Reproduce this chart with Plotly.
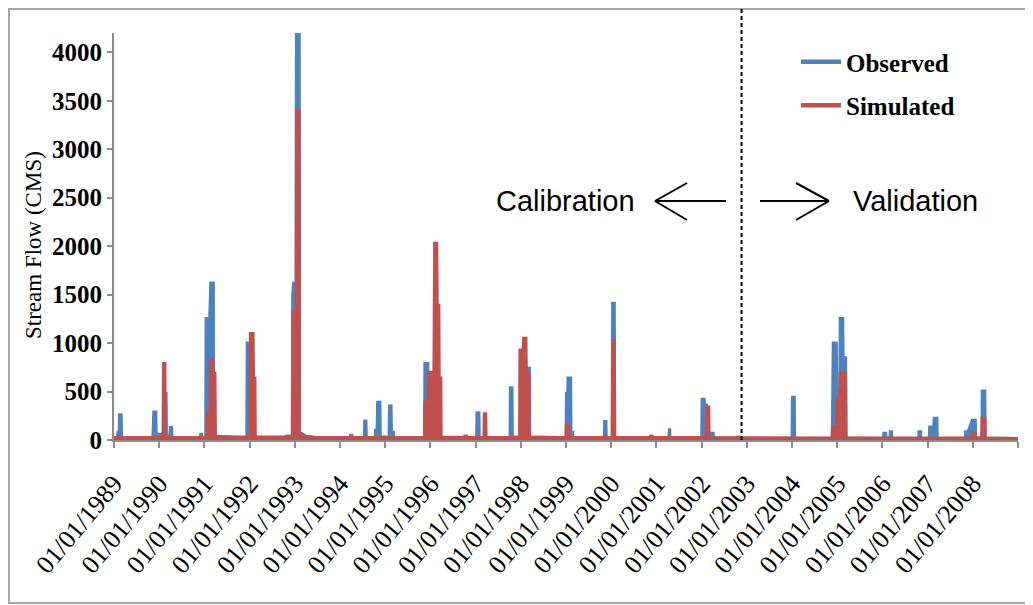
import plotly.graph_objects as go

# ---------------- data ----------------
obs_dates = [
    "1989-01-01", "1989-01-28", "1989-02-01", "1989-02-12", "1989-02-15", "1989-02-28", "1989-03-03",
    "1989-11-10", "1989-11-14", "1989-11-18", "1989-12-05", "1989-12-08",
    "1990-02-10", "1990-02-13", "1990-02-26", "1990-03-01",
    "1990-03-28", "1990-04-01", "1990-04-12", "1990-04-15",
    "1990-11-28", "1990-12-02", "1990-12-10", "1990-12-13",
    "1991-01-12", "1991-01-15", "1991-01-30", "1991-02-05", "1991-02-22", "1991-03-15", "1991-03-18",
    "1991-12-10", "1991-12-13", "1991-12-28", "1992-01-02",
    "1992-10-20", "1992-10-25", "1992-11-20", "1992-11-25",
    "1992-12-12", "1992-12-15", "1992-12-22", "1993-01-10", "1993-01-14", "1993-02-06", "1993-02-09",
    "1993-04-01", "1993-07-01",
    "1994-03-24", "1994-03-27", "1994-04-08", "1994-04-11",
    "1994-07-17", "1994-07-20", "1994-07-30", "1994-08-02",
    "1994-10-12", "1994-10-15", "1994-10-28", "1994-11-01", "1994-11-20", "1994-11-23",
    "1995-02-02", "1995-02-05", "1995-02-18", "1995-02-21", "1995-03-10", "1995-03-13",
    "1995-11-15", "1995-11-18", "1995-12-12", "1995-12-15",
    "1996-09-30", "1996-10-05", "1996-10-20", "1996-10-25",
    "1997-01-09", "1997-01-12", "1997-01-28", "1997-01-31",
    "1997-10-06", "1997-10-09", "1997-10-22", "1997-10-25",
    "1998-02-17", "1998-02-20", "1998-03-12", "1998-03-15",
    "1999-01-02", "1999-01-05", "1999-01-15", "1999-01-18", "1999-02-08", "1999-02-11", "1999-02-25", "1999-02-28",
    "1999-11-07", "1999-11-10", "1999-11-20", "1999-11-23",
    "2000-01-10", "2000-01-13", "2000-01-27", "2000-01-30",
    "2000-11-10", "2000-11-14", "2000-11-28", "2000-12-02",
    "2001-04-09", "2001-04-12", "2001-04-18", "2001-04-21",
    "2002-01-02", "2002-01-05", "2002-01-22", "2002-01-25", "2002-02-10", "2002-02-13",
    "2002-03-17", "2002-03-20", "2002-04-05", "2002-04-08",
    "2002-10-15", "2002-10-19", "2002-11-02", "2002-11-06",
    "2004-01-02", "2004-01-05", "2004-01-20", "2004-01-23",
    "2004-11-20", "2004-11-23", "2004-11-26", "2004-11-30", "2004-12-25", "2004-12-29", "2005-01-22", "2005-01-25",
    "2005-02-15", "2005-02-18", "2005-03-10", "2005-03-13",
    "2006-01-09", "2006-01-12", "2006-01-28", "2006-01-31",
    "2006-03-03", "2006-03-06", "2006-03-16", "2006-03-19",
    "2006-10-21", "2006-10-24", "2006-11-06", "2006-11-09",
    "2007-01-15", "2007-01-18", "2007-02-20", "2007-02-24", "2007-03-18", "2007-03-21",
    "2007-11-02", "2007-11-05", "2007-11-25", "2007-12-08", "2007-12-28", "2008-01-22", "2008-01-25",
    "2008-03-15", "2008-03-18", "2008-04-08", "2008-04-11", "2008-12-31",
]
obs_flow = [
    20, 20, 80, 80, 260, 260, 25,
    20, 120, 290, 290, 60,
    60, 480, 480, 40,
    40, 130, 130, 25,
    20, 60, 60, 25,
    25, 1255, 1255, 900, 1620, 1620, 40,
    20, 1000, 1000, 30,
    20, 40, 40, 20,
    20, 1500, 1620, 1620, 4250, 4250, 80,
    40, 20,
    20, 50, 50, 20,
    20, 195, 195, 25,
    25, 100, 100, 390, 390, 30,
    30, 350, 350, 80, 80, 25,
    20, 790, 790, 30,
    20, 40, 40, 20,
    20, 280, 280, 20,
    20, 540, 540, 30,
    30, 740, 740, 30,
    20, 480, 480, 640, 640, 80, 80, 20,
    20, 190, 190, 20,
    20, 1410, 1410, 25,
    20, 40, 40, 20,
    20, 120, 120, 20,
    20, 420, 420, 360, 360, 25,
    25, 70, 70, 20,
    20, 30, 30, 15,
    15, 440, 440, 15,
    15, 135, 380, 1000, 1000, 430, 430, 1255,
    1255, 850, 850, 20,
    15, 70, 70, 15,
    15, 85, 85, 15,
    15, 85, 85, 15,
    15, 135, 135, 225, 225, 15,
    15, 85, 85, 130, 205, 205, 20,
    20, 505, 505, 20, 15,
]

sim_dates = [
    "1989-01-01", "1990-01-25", "1990-02-01", "1990-02-05", "1990-02-16", "1990-02-19",
    "1991-01-20", "1991-01-24", "1991-02-15", "1991-02-20", "1991-03-08", "1991-03-12", "1991-03-28", "1991-04-01",
    "1992-01-05", "1992-01-08", "1992-01-30", "1992-02-03", "1992-02-14", "1992-02-17",
    "1992-12-12", "1992-12-15", "1993-01-14", "1993-01-18", "1993-02-05", "1993-02-08", "1993-04-01", "1993-07-01",
    "1995-11-15", "1995-11-18", "1995-12-15", "1995-12-20", "1996-01-30", "1996-02-05", "1996-02-22",
    "1996-02-26", "1996-03-10", "1996-03-13", "1996-03-26", "1996-03-29",
    "1997-03-09", "1997-03-12", "1997-03-24", "1997-03-27",
    "1997-12-22", "1997-12-25", "1998-01-20", "1998-01-24", "1998-02-12", "1998-02-15", "1998-03-08", "1998-03-11",
    "1999-01-02", "1999-01-05", "1999-01-22", "1999-01-25",
    "2000-01-10", "2000-01-13", "2000-01-27", "2000-01-30",
    "2002-02-09", "2002-02-12", "2002-02-28", "2002-03-03",
    "2004-11-22", "2004-11-25", "2004-12-28", "2004-12-31", "2005-01-22", "2005-01-25", "2005-03-10", "2005-03-13",
    "2007-12-30", "2008-01-03", "2008-01-22", "2008-01-25",
    "2008-03-15", "2008-03-18", "2008-04-08", "2008-04-11", "2008-12-31",
]
sim_flow = [
    25, 25, 80, 790, 790, 25,
    25, 270, 270, 825, 825, 690, 690, 30,
    30, 1100, 1100, 640, 640, 30,
    30, 1320, 1320, 3400, 3400, 60, 40, 25,
    25, 390, 390, 700, 700, 2030, 2030,
    1390, 1390, 640, 640, 30,
    25, 270, 270, 25,
    25, 930, 930, 1050, 1050, 690, 690, 30,
    25, 155, 155, 25,
    25, 1030, 1030, 25,
    25, 340, 340, 25,
    20, 135, 135, 430, 430, 690, 690, 20,
    20, 70, 70, 20,
    20, 225, 225, 20, 15,
]

tick_dates = ["%d-01-01" % y for y in range(1989, 2010)]
tick_labels = ["01/01/%d" % y for y in range(1989, 2009)] + [""]
y_ticks = [0, 500, 1000, 1500, 2000, 2500, 3000, 3500, 4000]
split_date = "2002-11-20"

# ---------------- layout helpers (page pixels; page has an 8px body margin) ----------------
OFF = 8
W, H = 1033 - OFF, 605 - OFF
PL, PR, PT, PB = 114, 1018, 33, 440          # plot area in page pixels
L, R, T, B = PL - OFF, OFF + W - PR, PT - OFF, OFF + H - PB


def px(x):
    return (x - PL) / (PR - PL)


def py(y):
    return (PB - y) / (PB - PT)


BLUE = "#4F81BD"
RED = "#C0504D"
SERIF = "Liberation Serif"
SANS = "Liberation Sans"

fig = go.Figure()
fig.add_trace(go.Scatter(x=obs_dates, y=obs_flow, mode="lines", name="Observed", showlegend=False,
                         line=dict(color=BLUE, width=3), fill="tozeroy", fillcolor=BLUE))
fig.add_trace(go.Scatter(x=sim_dates, y=sim_flow, mode="lines", name="Simulated", showlegend=False,
                         line=dict(color=RED, width=3), fill="tozeroy", fillcolor=RED))
# legend entries
fig.add_trace(go.Scatter(x=[None], y=[None], mode="lines", name="Observed", legendgroup="o",
                         line=dict(color=BLUE, width=4.5)))
fig.add_trace(go.Scatter(x=[None], y=[None], mode="lines", name="Simulated", legendgroup="s",
                         line=dict(color=RED, width=4.5)))

shapes = [
    # outer frame
    dict(type="rect", xref="paper", yref="paper", x0=px(9), x1=px(1045), y0=py(603), y1=py(9),
         line=dict(color="#A6A6A6", width=2), layer="below"),
    # calibration / validation split
    dict(type="line", xref="x", yref="paper", x0=split_date, x1=split_date, y0=0, y1=py(9),
         line=dict(color="black", width=2, dash="4px,3px")),
]
# arrows (open heads)
for seg in [((655, 201), (726, 201)), ((655, 201), (687, 183)), ((655, 201), (687, 220)),
            ((760, 201), (829, 201)), ((829, 201), (796, 183)), ((829, 201), (796, 220))]:
    (xa, ya), (xb, yb) = seg
    shapes.append(dict(type="line", xref="paper", yref="paper", x0=px(xa), y0=py(ya), x1=px(xb), y1=py(yb),
                       line=dict(color="black", width=2)))

annotations = [
    dict(text="Calibration", xref="paper", yref="paper", x=px(565), y=py(201), showarrow=False,
         font=dict(family=SANS, size=29, color="black"), xanchor="center", yanchor="middle"),
    dict(text="Validation", xref="paper", yref="paper", x=px(915), y=py(201), showarrow=False,
         font=dict(family=SANS, size=29, color="black"), xanchor="center", yanchor="middle"),
    dict(text="Stream Flow (CMS)", xref="paper", yref="paper", x=px(33), y=py(245), showarrow=False,
         textangle=-90, font=dict(family=SERIF, size=23, color="black"), xanchor="center", yanchor="middle"),
]

fig.update_layout(
    width=W, height=H,
    margin=dict(l=L, r=R, t=T, b=B),
    paper_bgcolor="white", plot_bgcolor="white",
    showlegend=True,
    legend=dict(x=px(796), y=py(39), xanchor="left", yanchor="top", itemwidth=40,
                font=dict(family=SERIF, size=25, color="black", weight="bold"),
                bgcolor="rgba(0,0,0,0)", traceorder="grouped", tracegroupgap=8),
    shapes=shapes,
    annotations=annotations,
    xaxis=dict(type="date", range=["1989-01-01", "2009-01-01"],
               tickvals=tick_dates, ticktext=tick_labels, tickangle=-50,
               tickfont=dict(family=SERIF, size=26, color="black"), ticklabelstandoff=10,
               showgrid=False, zeroline=False, showline=True, linecolor="#8C8C8C", linewidth=2,
               ticks="outside", ticklen=6, tickcolor="#8C8C8C", tickwidth=2),
    yaxis=dict(range=[0, 4200], tickvals=y_ticks,
               tickfont=dict(family=SERIF, size=25, color="black", weight="bold"),
               showgrid=False, zeroline=False, showline=True, linecolor="#8C8C8C", linewidth=2,
               ticks="outside", ticklen=5, tickcolor="#8C8C8C", tickwidth=2),
)

fig.write_html("out.html")
